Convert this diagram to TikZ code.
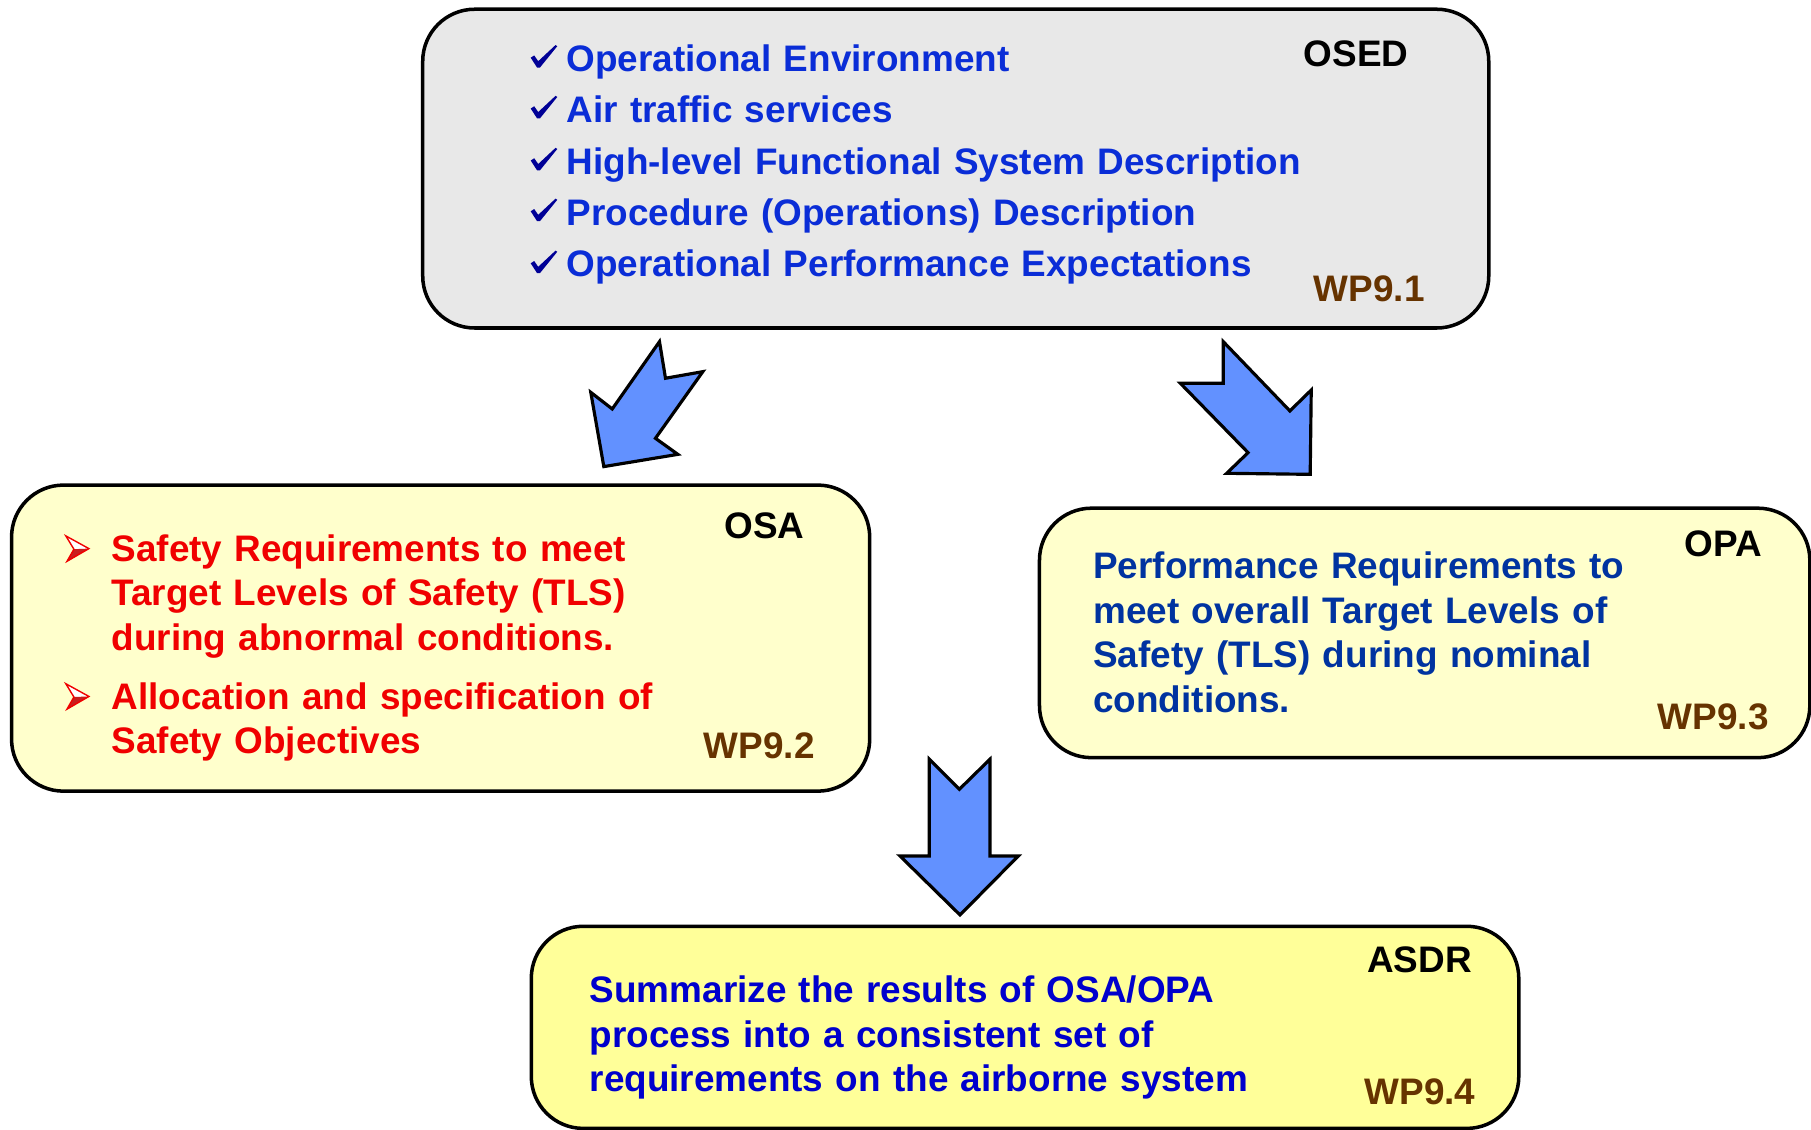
\documentclass[tikz,border=0pt]{standalone}
\usepackage{fontspec}
\setmainfont{Liberation Sans}
\usetikzlibrary{fit}

\definecolor{osedfill}{RGB}{232,232,232}
\definecolor{paleyellow}{RGB}{255,255,204}
\definecolor{yellowfill}{RGB}{255,255,153}
\definecolor{arrowblue}{RGB}{98,145,255}
\definecolor{osedblue}{RGB}{10,45,215}
\definecolor{checknavy}{RGB}{0,0,150}
\definecolor{osared}{RGB}{240,0,0}
\definecolor{bulletred}{RGB}{200,30,30}
\definecolor{opablue}{RGB}{0,51,160}
\definecolor{asdrblue}{RGB}{0,0,204}
\definecolor{wpbrown}{RGB}{102,51,0}

\newcommand{\bodyfont}{\fontsize{10.5pt}{12.7pt}\selectfont\bfseries}
\newcommand{\listfont}{\fontsize{10.5pt}{14.6pt}\selectfont\bfseries}

\tikzset{
  panel/.style={draw=black, line width=1pt, rounded corners=0.52cm, inner sep=0pt},
  blockarrow/.style={draw=black, line width=0.9pt, fill=arrowblue, line join=miter},
  txt/.style={inner sep=0pt, align=left, anchor=base west, text width=11cm},
  tag/.style={inner sep=0pt, anchor=base east, font=\fontsize{10.5pt}{12pt}\selectfont\bfseries},
  wp/.style={tag, text=wpbrown},
}

% arrowhead bullet drawn at (x,y) = its left-top corner
\newcommand{\arrowbullet}[2]{%
  \begin{scope}[shift={(#1,#2)}]
    \fill[white] (0,0) -- (20,11) -- (7,11.5) -- cycle;
    \fill[bulletred] (7,11.5) -- (20,11) -- (1,22) -- cycle;
    \draw[osared, line width=0.4pt, line join=miter] (0,0) -- (20,11) -- (1,22) -- (7,11.5) -- cycle;
  \end{scope}}

% tick mark sitting on a text baseline at (x,y)
\newcommand{\tickmark}[2]{%
  \fill[checknavy, shift={(#1,#2)}] (0,-12) -- (3,-14) -- (6.5,-9) -- (21.5,-23)
    -- (23,-22) -- (8,-3.5) -- (5.5,-3.5) -- cycle;}

\begin{document}
\begin{tikzpicture}[x=0.01155cm, y=-0.01155cm]
\useasboundingbox (0,0) rectangle (1568,978);

% ---- panels ----
\node[panel, fill=osedfill, fit={(366,8) (1289,284)}] (osed) {};
\node[panel, fill=paleyellow, fit={(10,420) (753,685)}] (osa) {};
\node[panel, fill=paleyellow, fit={(900,440) (1567,656)}] (opa) {};
\node[panel, fill=yellowfill, fit={(460,802) (1315,977)}] (asdr) {};

% ---- OSED ----
\foreach \yb in {62,106,151,195,240} {\tickmark{459.5}{\yb}}
\node[txt, text=osedblue, font=\listfont] (osedlist) at (490,62)
  {Operational Environment\\
   Air traffic services\\
   High-level Functional System Description\\
   Procedure (Operations) Description\\
   Operational Performance Expectations};
\node[tag] (osedtag) at (1220,58) {OSED};
\node[wp] (wp91) at (1234,261) {WP9.1};

% ---- OSA ----
\arrowbullet{57}{464}
\arrowbullet{57}{592}
\node[txt, text=osared, font=\bodyfont] (osaone) at (96,486)
  {Safety Requirements to meet\\
   Target Levels of Safety (TLS)\\
   during abnormal conditions.};
\node[txt, text=osared, font=\bodyfont] (osatwo) at (96,614)
  {Allocation and specification of\\
   Safety Objectives};
\node[tag] (osatag) at (697,466) {OSA};
\node[wp] (wp92) at (706,657) {WP9.2};

% ---- OPA ----
\node[txt, text=opablue, font=\bodyfont] (opatext) at (946,501)
  {Performance Requirements to\\
   meet overall Target Levels of\\
   Safety (TLS) during nominal\\
   conditions.};
\node[tag] (opatag) at (1526,482) {OPA};
\node[wp] (wp93) at (1532,632) {WP9.3};

% ---- ASDR ----
\node[txt, text=asdrblue, font=\bodyfont] (asdrtext) at (510,868)
  {Summarize the results of OSA/OPA\\
   process into a consistent set of\\
   requirements on the airborne system};
\node[tag] (asdrtag) at (1275,842) {ASDR};
\node[wp] (wp94) at (1278,956) {WP9.4};

% ---- block arrows ----
\draw[blockarrow] (571.0,295.8) -- (576.2,327.5) -- (608.5,321.8) -- (567.5,379.5)
  -- (586.9,393.4) -- (522.8,404.0) -- (511.5,339.7) -- (530.1,354.1) -- cycle;
\draw[blockarrow] (1059.1,295.8) -- (1116.8,355.8) -- (1135.3,337.7) -- (1134.4,410.7)
  -- (1062.1,409.8) -- (1080.6,391.9) -- (1022.0,331.9) -- (1059.1,331.9) -- cycle;
\draw[blockarrow] (804.6,657.4) -- (830.6,683.4) -- (857.1,657.4) -- (857.1,741.1)
  -- (881.7,741.1) -- (831.2,792.2) -- (779.2,741.1) -- (804.6,741.1) -- cycle;
\end{tikzpicture}
\end{document}
